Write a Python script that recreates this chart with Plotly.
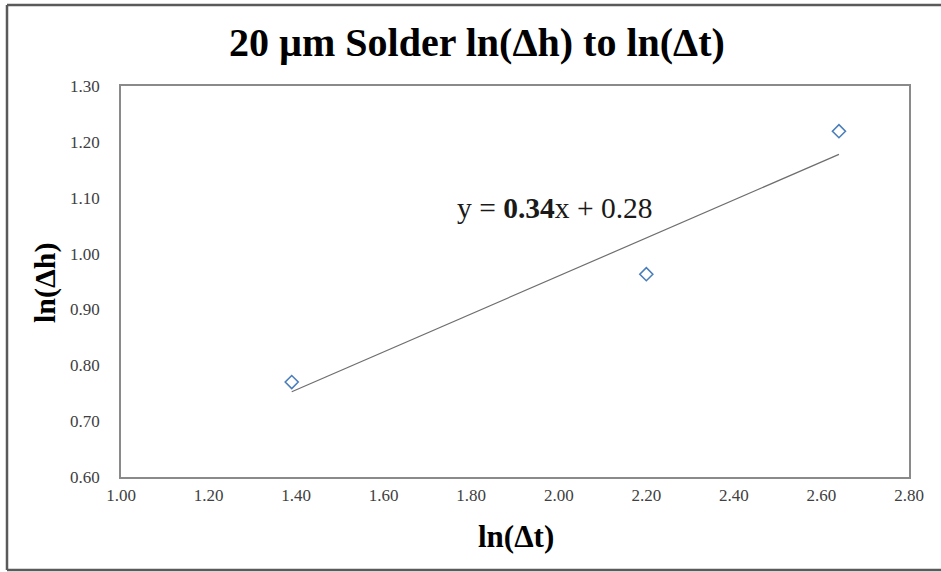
import plotly.graph_objects as go

# Measured points: ln(Δt) vs ln(Δh)
ln_dt = [1.39, 2.20, 2.64]
ln_dh = [0.770, 0.963, 1.219]

# Linear trendline coefficients (as printed on the chart)
slope = 0.34
intercept = 0.28

x_ticks = [1.00, 1.20, 1.40, 1.60, 1.80, 2.00, 2.20, 2.40, 2.60, 2.80]
y_ticks = [0.60, 0.70, 0.80, 0.90, 1.00, 1.10, 1.20, 1.30]

W, H = 941, 572
L, R, T, B = 121, 32, 86, 95
pw, ph = W - L - R, H - T - B

serif = "Liberation Serif"

trend_x = [min(ln_dt), max(ln_dt)]
trend_y = [slope * v + intercept for v in trend_x]

fig = go.Figure()
fig.add_trace(go.Scatter(
    x=trend_x, y=trend_y, mode="lines",
    line=dict(color="#6e6e6e", width=1.2),
    hoverinfo="skip", showlegend=False,
))
fig.add_trace(go.Scatter(
    x=ln_dt, y=ln_dh, mode="markers",
    marker=dict(symbol="diamond-open", size=10, color="#4a7ebb",
                line=dict(width=1.6, color="#4a7ebb")),
    showlegend=False,
))

axis_common = dict(
    showgrid=False, zeroline=False, ticks="",
    showline=True, mirror=True, linecolor="#8a8a8a", linewidth=1.5,
    tickfont=dict(family=serif, size=17, color="#404040"),
    tickformat=".2f",
)
fig.update_xaxes(range=[1.0, 2.8], tickvals=x_ticks, ticklabelstandoff=2, **axis_common)
fig.update_yaxes(range=[0.6, 1.3], tickvals=y_ticks, ticklabelstandoff=16, **axis_common)


def px_x(p):
    return (p - L) / pw


def px_y(p):
    return (H - B - p) / ph


annotations = [
    dict(text="<b>20 µm Solder ln(Δh) to ln(Δt)</b>", x=px_x(477), y=px_y(42),
         font=dict(family=serif, size=40, color="#000000")),
    dict(text="<b>ln(Δh)</b>", x=px_x(45), y=px_y(283), textangle=-90,
         font=dict(family=serif, size=30, color="#000000")),
    dict(text="<b>ln(Δt)</b>", x=px_x(516), y=px_y(536),
         font=dict(family=serif, size=31, color="#000000")),
    dict(text=f"y = <b>{slope:.2f}</b>x + {intercept:.2f}", x=px_x(555), y=px_y(208),
         font=dict(family=serif, size=29.5, color="#1a1a1a")),
]
for a in annotations:
    a.update(xref="paper", yref="paper", showarrow=False, xanchor="center", yanchor="middle")

# Outer chart frame
frame_col = "#5a5a5a"
shapes = [
    dict(type="line", x0=px_x(7), x1=px_x(7), y0=px_y(5), y1=px_y(570)),
    dict(type="line", x0=px_x(7), x1=px_x(945), y0=px_y(5), y1=px_y(5)),
    dict(type="line", x0=px_x(7), x1=px_x(945), y0=px_y(570), y1=px_y(570)),
]
for s in shapes:
    s.update(xref="paper", yref="paper", line=dict(color=frame_col, width=2.5), layer="above")

fig.update_layout(
    width=W, height=H,
    margin=dict(l=L, r=R, t=T, b=B, autoexpand=False),
    paper_bgcolor="white", plot_bgcolor="white",
    annotations=annotations, shapes=shapes,
)

fig.write_html("out.html")
